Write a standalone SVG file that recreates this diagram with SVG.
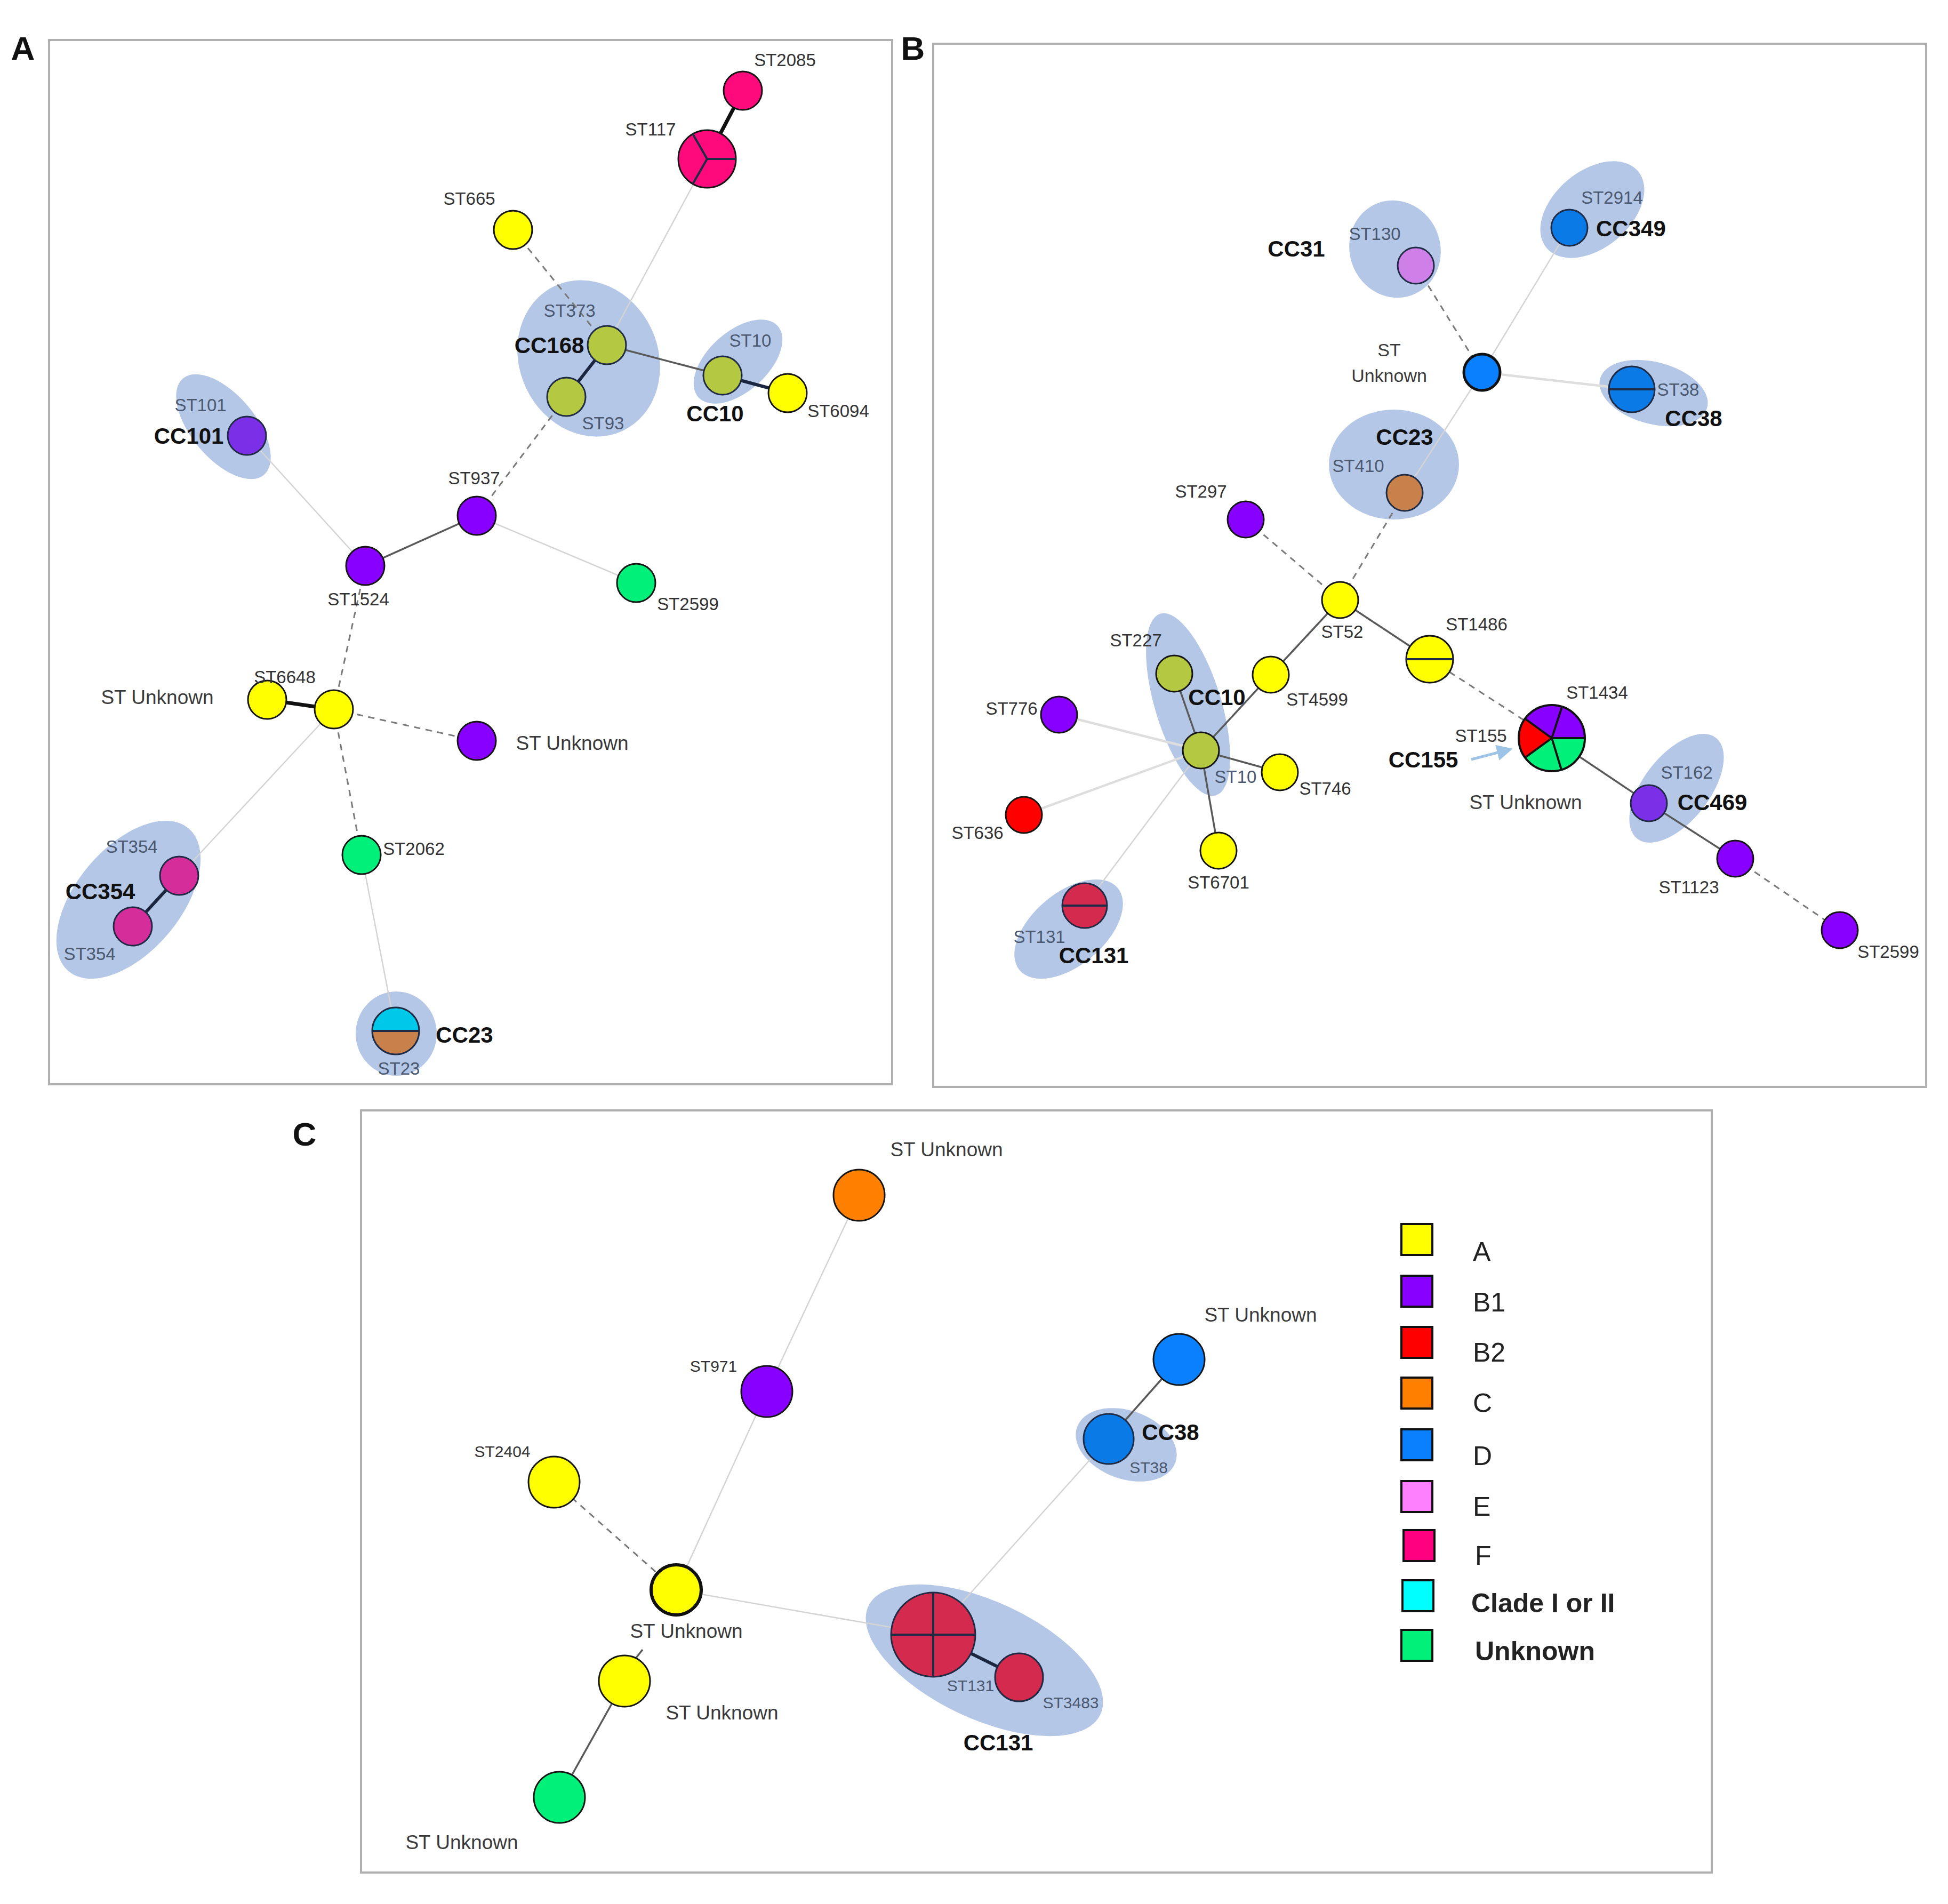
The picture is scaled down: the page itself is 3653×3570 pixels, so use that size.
<svg xmlns="http://www.w3.org/2000/svg" width="3653" height="3570" viewBox="0 0 3653 3570">
<style>
.frame{fill:none;stroke:#b0b0b0;stroke-width:4}
.hull{fill:#b4c7e7}
.n{stroke:#151515;stroke-width:3}
.nh{stroke:#1f2a44;stroke-width:3}
.div{stroke:#1f2a44;stroke-width:4;fill:none}
.el{stroke:#d4d4d4;stroke-width:2.5;fill:none}
.elw{stroke:#dedede;stroke-width:4.5;fill:none}
.em{stroke:#5a5a5a;stroke-width:3.5;fill:none}
.ed{stroke:#7a7a7a;stroke-width:3;stroke-dasharray:12 10;fill:none}
.et{stroke:#111;stroke-width:7;fill:none}
.en{stroke:#1b2640;stroke-width:6;fill:none}
text{font-family:"Liberation Sans",Arial,sans-serif}
.l{font-size:33px;fill:#333;text-anchor:middle}
.lc{font-size:30px;fill:#333;text-anchor:middle}
.s{font-size:33px;fill:#4a5870;text-anchor:middle}
.u{font-size:37px;fill:#3a3a3a;text-anchor:middle}
.cc{font-size:42px;font-weight:bold;fill:#111;text-anchor:middle}
.pl{font-size:62px;font-weight:bold;fill:#111;text-anchor:middle}
.lg{font-size:50px;fill:#222}
.lgb{font-size:50px;fill:#222;font-weight:bold}
.sq{stroke:#111;stroke-width:4}
</style>
<defs>
<marker id="ah" markerWidth="6" markerHeight="6" refX="5" refY="3" orient="auto" markerUnits="strokeWidth">
<path d="M0,0 L6,3 L0,6 Z" fill="#9dc3e6"/>
</marker>
</defs>
<rect width="3653" height="3570" fill="#fff"/>

<!-- frames and panel letters -->
<g id="frames">
<rect class="frame" x="92" y="75" width="1581" height="1958"/>
<rect class="frame" x="1750" y="82" width="1862" height="1956"/>
<rect class="frame" x="677" y="2082" width="2533" height="1429"/>
<text class="pl" x="43" y="112">A</text>
<text class="pl" x="1712" y="112">B</text>
<text class="pl" x="571" y="2148">C</text>
</g>

<!-- hulls -->
<g id="hulls">
<ellipse class="hull" cx="1104" cy="672" rx="130" ry="150" transform="rotate(-25 1104 672)"/>
<ellipse class="hull" cx="1384" cy="678" rx="100" ry="56" transform="rotate(-42 1384 678)"/>
<ellipse class="hull" cx="419" cy="800" rx="118" ry="60" transform="rotate(50 419 800)"/>
<ellipse class="hull" cx="241" cy="1687" rx="175" ry="98" transform="rotate(-50 241 1687)"/>
<ellipse class="hull" cx="743" cy="1938" rx="76" ry="79"/>
<ellipse class="hull" cx="2616" cy="467" rx="85" ry="92" transform="rotate(-20 2616 467)"/>
<ellipse class="hull" cx="2986" cy="393" rx="112" ry="72" transform="rotate(-40 2986 393)"/>
<ellipse class="hull" cx="3101" cy="737" rx="104" ry="58" transform="rotate(15 3101 737)"/>
<ellipse class="hull" cx="2614" cy="871" rx="122" ry="103"/>
<ellipse class="hull" cx="2228" cy="1321" rx="62" ry="178" transform="rotate(-17 2228 1321)"/>
<ellipse class="hull" cx="2004" cy="1742" rx="120" ry="68" transform="rotate(-40 2004 1742)"/>
<ellipse class="hull" cx="3144" cy="1478" rx="120" ry="62" transform="rotate(-52 3144 1478)"/>
<ellipse class="hull" cx="2112" cy="2709" rx="98" ry="64" transform="rotate(20 2112 2709)"/>
<ellipse class="hull" cx="1846" cy="3113" rx="240" ry="110" transform="rotate(25 1846 3113)"/>
</g>

<!-- connectors -->
<g id="connectors">
<!-- A -->
<line class="et" x1="1393" y1="170" x2="1326" y2="298"/>
<line class="el" x1="1326" y1="298" x2="1138" y2="647"/>
<line class="ed" x1="962" y1="431" x2="1138" y2="647"/>
<line class="en" x1="1138" y1="647" x2="1062" y2="744"/>
<line class="em" x1="1138" y1="647" x2="1355" y2="704"/>
<line class="en" x1="1355" y1="704" x2="1477" y2="737"/>
<line class="ed" x1="1062" y1="744" x2="894" y2="967"/>
<line class="el" x1="463" y1="817" x2="685" y2="1061"/>
<line class="em" x1="894" y1="967" x2="685" y2="1061"/>
<line class="el" x1="894" y1="967" x2="1193" y2="1093"/>
<line class="ed" x1="685" y1="1061" x2="626" y2="1330"/>
<line class="et" x1="626" y1="1330" x2="501" y2="1312"/>
<line class="ed" x1="626" y1="1330" x2="894" y2="1389"/>
<line class="ed" x1="626" y1="1330" x2="678" y2="1603"/>
<line class="el" x1="626" y1="1330" x2="336" y2="1642"/>
<line class="en" x1="336" y1="1642" x2="249" y2="1737"/>
<line class="el" x1="678" y1="1603" x2="742" y2="1933"/>
<!-- B -->
<line class="ed" x1="2655" y1="498" x2="2779" y2="698"/>
<line class="el" x1="2943" y1="427" x2="2779" y2="698"/>
<line class="elw" x1="2779" y1="698" x2="3060" y2="730"/>
<line class="el" x1="2779" y1="698" x2="2634" y2="924"/>
<line class="ed" x1="2634" y1="924" x2="2513" y2="1125"/>
<line class="ed" x1="2336" y1="974" x2="2513" y2="1125"/>
<line class="em" x1="2513" y1="1125" x2="2681" y2="1236"/>
<line class="em" x1="2513" y1="1125" x2="2383" y2="1265"/>
<line class="em" x1="2383" y1="1265" x2="2252" y2="1407"/>
<line class="em" x1="2202" y1="1263" x2="2252" y2="1407"/>
<line class="em" x1="2252" y1="1407" x2="2400" y2="1448"/>
<line class="em" x1="2252" y1="1407" x2="2285" y2="1595"/>
<line class="elw" x1="2252" y1="1407" x2="1986" y2="1340"/>
<line class="elw" x1="2252" y1="1407" x2="1920" y2="1528"/>
<line class="el" x1="2252" y1="1407" x2="2034" y2="1698"/>
<line class="ed" x1="2681" y1="1236" x2="2910" y2="1384"/>
<line class="em" x1="2910" y1="1384" x2="3092" y2="1506"/>
<line class="em" x1="3092" y1="1506" x2="3254" y2="1610"/>
<line class="ed" x1="3254" y1="1610" x2="3450" y2="1744"/>
<line stroke="#9dc3e6" stroke-width="5" x1="2759" y1="1424" x2="2832" y2="1405" marker-end="url(#ah)"/>
<!-- C -->
<line class="el" x1="1611" y1="2241" x2="1438" y2="2609"/>
<line class="el" x1="1438" y1="2609" x2="1268" y2="2981"/>
<line class="ed" x1="1039" y1="2779" x2="1268" y2="2981"/>
<line class="el" x1="1268" y1="2981" x2="1750" y2="3065"/>
<line class="el" x1="1750" y1="3065" x2="2079" y2="2698"/>
<line class="em" x1="2079" y1="2698" x2="2211" y2="2549"/>
<line class="en" x1="1750" y1="3065" x2="1911" y2="3145"/>
<line class="em" x1="1171" y1="3152" x2="1049" y2="3370"/>
<line class="em" x1="1190" y1="3112" x2="1205" y2="3093"/>
</g>

<!-- Panel A nodes -->
<g id="A-ST2085"><circle class="n" cx="1393" cy="170" r="36" fill="#ff0a7c"/></g>
<g id="A-ST117"><circle class="n" cx="1326" cy="298" r="54" fill="#ff0a7c"/>
<path class="div" stroke="#151515" d="M1326,298 L1380,298 M1326,298 L1299,345 M1326,298 L1299,251"/></g>
<g id="A-ST665"><circle class="n" cx="962" cy="431" r="36" fill="#ffff00"/></g>
<g id="A-ST373"><circle class="nh" cx="1138" cy="647" r="36" fill="#b5c842"/></g>
<g id="A-ST93"><circle class="nh" cx="1062" cy="744" r="36" fill="#b5c842"/></g>
<g id="A-ST10"><circle class="nh" cx="1355" cy="704" r="36" fill="#b5c842"/></g>
<g id="A-ST6094"><circle class="n" cx="1477" cy="737" r="36" fill="#ffff00"/></g>
<g id="A-ST101"><circle class="nh" cx="463" cy="817" r="36" fill="#7b2fe6"/></g>
<g id="A-ST937"><circle class="n" cx="894" cy="967" r="36" fill="#8800ff"/></g>
<g id="A-ST1524"><circle class="n" cx="685" cy="1061" r="36" fill="#8800ff"/></g>
<g id="A-ST2599"><circle class="n" cx="1193" cy="1093" r="36" fill="#00f07a"/></g>
<g id="A-ST6648"><circle class="n" cx="626" cy="1330" r="36" fill="#ffff00"/></g>
<g id="A-STU-yellow"><circle class="n" cx="501" cy="1312" r="36" fill="#ffff00"/></g>
<g id="A-STU-purple"><circle class="n" cx="894" cy="1389" r="36" fill="#8800ff"/></g>
<g id="A-ST2062"><circle class="n" cx="678" cy="1603" r="36" fill="#00f07a"/></g>
<g id="A-ST354a"><circle class="nh" cx="336" cy="1642" r="36" fill="#d52e9b"/></g>
<g id="A-ST354b"><circle class="nh" cx="249" cy="1737" r="36" fill="#d52e9b"/></g>
<g id="A-ST23">
<path d="M698,1933 A44,44 0 0 1 786,1933 Z" fill="#00c8e8"/>
<path d="M698,1933 A44,44 0 0 0 786,1933 Z" fill="#c8814a"/>
<line class="div" x1="698" y1="1933" x2="786" y2="1933"/>
<circle class="nh" cx="742" cy="1933" r="44" fill="none"/></g>

<!-- Panel B nodes -->
<g id="B-ST130"><circle class="nh" cx="2655" cy="498" r="34" fill="#cf80e8"/></g>
<g id="B-ST2914"><circle class="nh" cx="2943" cy="427" r="34" fill="#0a7ae6"/></g>
<g id="B-STU"><circle cx="2779" cy="698" r="34" fill="#0a80ff" stroke="#111" stroke-width="5"/></g>
<g id="B-ST38"><circle class="nh" cx="3060" cy="730" r="43" fill="#0a7ae6"/>
<line class="div" x1="3017" y1="730" x2="3103" y2="730"/></g>
<g id="B-ST410"><circle class="nh" cx="2634" cy="924" r="34" fill="#c8814a"/></g>
<g id="B-ST297"><circle class="n" cx="2336" cy="974" r="34" fill="#8800ff"/></g>
<g id="B-ST52"><circle class="n" cx="2513" cy="1125" r="34" fill="#ffff00"/></g>
<g id="B-ST1486"><circle class="n" cx="2681" cy="1236" r="44" fill="#ffff00"/>
<line class="div" stroke="#151515" x1="2637" y1="1236" x2="2725" y2="1236"/></g>
<g id="B-ST227"><circle class="n" cx="2202" cy="1263" r="34" fill="#b5c842"/></g>
<g id="B-ST4599"><circle class="n" cx="2383" cy="1265" r="34" fill="#ffff00"/></g>
<g id="B-ST776"><circle class="n" cx="1986" cy="1340" r="34" fill="#8800ff"/></g>
<g id="B-ST10"><circle class="n" cx="2252" cy="1407" r="34" fill="#b5c842"/></g>
<g id="B-ST746"><circle class="n" cx="2400" cy="1448" r="34" fill="#ffff00"/></g>
<g id="B-ST636"><circle class="n" cx="1920" cy="1528" r="34" fill="#ff0000"/></g>
<g id="B-ST6701"><circle class="n" cx="2285" cy="1595" r="34" fill="#ffff00"/></g>
<g id="B-ST131"><circle class="nh" cx="2034" cy="1698" r="42" fill="#d42a4e"/>
<line class="div" x1="1992" y1="1698" x2="2076" y2="1698"/></g>
<g id="B-ST1434">
<path d="M2910,1384 L2859.8,1347.5 A62,62 0 0 1 2929.2,1325 Z" fill="#8800ff"/>
<path d="M2910,1384 L2929.2,1325 A62,62 0 0 1 2972,1384 Z" fill="#8800ff"/>
<path d="M2910,1384 L2972,1384 A62,62 0 0 1 2928.1,1443.3 Z" fill="#00f07a"/>
<path d="M2910,1384 L2928.1,1443.3 A62,62 0 0 1 2859.8,1420.5 Z" fill="#00f07a"/>
<path d="M2910,1384 L2859.8,1420.5 A62,62 0 0 1 2859.8,1347.5 Z" fill="#ff0000"/>
<path stroke="#111" stroke-width="4" fill="none" d="M2910,1384 L2859.8,1347.5 M2910,1384 L2929.2,1325 M2910,1384 L2972,1384 M2910,1384 L2928.1,1443.3 M2910,1384 L2859.8,1420.5"/>
<circle cx="2910" cy="1384" r="62" fill="none" stroke="#111" stroke-width="4"/></g>
<g id="B-ST162"><circle class="nh" cx="3092" cy="1506" r="34" fill="#7b2fe6"/></g>
<g id="B-ST1123"><circle class="n" cx="3254" cy="1610" r="34" fill="#8800ff"/></g>
<g id="B-ST2599"><circle class="n" cx="3450" cy="1744" r="34" fill="#8800ff"/></g>

<!-- Panel C nodes -->
<g id="C-STU-orange"><circle class="n" cx="1611" cy="2241" r="48" fill="#ff8000"/></g>
<g id="C-ST971"><circle class="n" cx="1438" cy="2609" r="48" fill="#8800ff"/></g>
<g id="C-ST2404"><circle class="n" cx="1039" cy="2779" r="48" fill="#ffff00"/></g>
<g id="C-STU-center"><circle cx="1268" cy="2981" r="47" fill="#ffff00" stroke="#111" stroke-width="6"/></g>
<g id="C-STU-lower"><circle class="n" cx="1171" cy="3152" r="48" fill="#ffff00"/></g>
<g id="C-STU-green"><circle class="n" cx="1049" cy="3370" r="48" fill="#00f07a"/></g>
<g id="C-ST131"><circle class="nh" cx="1750" cy="3065" r="79" fill="#d42a4e"/>
<path class="div" d="M1671,3065 L1829,3065 M1750,2986 L1750,3144"/>
<text class="s" x="1820" y="3171" style="font-size:30px">ST131</text></g>
<g id="C-ST3483"><circle class="nh" cx="1911" cy="3145" r="45" fill="#d42a4e"/></g>
<g id="C-ST38"><circle class="nh" cx="2079" cy="2698" r="47" fill="#0a7ae6"/></g>
<g id="C-STU-blue"><circle class="n" cx="2211" cy="2549" r="48" fill="#0a80ff"/></g>

<!-- legend -->
<g id="legend">
<rect class="sq" x="2628" y="2295" width="58" height="58" fill="#ffff00"/>
<rect class="sq" x="2628" y="2392" width="58" height="58" fill="#8800ff"/>
<rect class="sq" x="2628" y="2488" width="58" height="58" fill="#ff0000"/>
<rect class="sq" x="2628" y="2583" width="58" height="58" fill="#ff8000"/>
<rect class="sq" x="2628" y="2680" width="58" height="58" fill="#0a80ff"/>
<rect class="sq" x="2628" y="2777" width="58" height="58" fill="#ff80ff"/>
<rect class="sq" x="2632" y="2869" width="58" height="58" fill="#ff0080"/>
<rect class="sq" x="2630" y="2963" width="58" height="58" fill="#00ffff"/>
<rect class="sq" x="2628" y="3056" width="58" height="58" fill="#00f07a"/>
<text class="lg" x="2762" y="2364">A</text>
<text class="lg" x="2762" y="2459">B1</text>
<text class="lg" x="2762" y="2553">B2</text>
<text class="lg" x="2762" y="2648">C</text>
<text class="lg" x="2762" y="2747">D</text>
<text class="lg" x="2762" y="2842">E</text>
<text class="lg" x="2766" y="2934">F</text>
<text class="lgb" x="2759" y="3023">Clade I or II</text>
<text class="lgb" x="2766" y="3113">Unknown</text>
</g>

<!-- labels -->
<g id="labels">
<text class="l" x="1472" y="124">ST2085</text>
<text class="l" x="1220" y="254">ST117</text>
<text class="l" x="880" y="384">ST665</text>
<text class="s" x="1068" y="594">ST373</text>
<text class="cc" x="1030" y="662">CC168</text>
<text class="s" x="1407" y="650">ST10</text>
<text class="s" x="1131" y="805">ST93</text>
<text class="cc" x="1341" y="790">CC10</text>
<text class="l" x="1572" y="782">ST6094</text>
<text class="s" x="376" y="771">ST101</text>
<text class="cc" x="354" y="832">CC101</text>
<text class="l" x="889" y="908">ST937</text>
<text class="l" x="672" y="1135">ST1524</text>
<text class="l" x="1290" y="1144">ST2599</text>
<text class="l" x="534" y="1281">ST6648</text>
<text class="u" x="295" y="1320">ST Unknown</text>
<text class="u" x="1073" y="1406">ST Unknown</text>
<text class="l" x="776" y="1603">ST2062</text>
<text class="s" x="247" y="1599">ST354</text>
<text class="cc" x="188" y="1686">CC354</text>
<text class="s" x="168" y="1800">ST354</text>
<text class="cc" x="871" y="1955">CC23</text>
<text class="s" x="748" y="2015">ST23</text>

<text class="s" x="3023" y="382">ST2914</text>
<text class="cc" x="2993" y="443" style="text-anchor:start">CC349</text>
<text class="s" x="2578" y="450">ST130</text>
<text class="cc" x="2431" y="481">CC31</text>
<text class="u" x="2605" y="668" style="font-size:34px">ST</text>
<text class="u" x="2605" y="716" style="font-size:34px">Unknown</text>
<text class="s" x="3147" y="742">ST38</text>
<text class="cc" x="3176" y="799">CC38</text>
<text class="cc" x="2634" y="834">CC23</text>
<text class="s" x="2547" y="885">ST410</text>
<text class="l" x="2252" y="933">ST297</text>
<text class="l" x="2517" y="1196">ST52</text>
<text class="l" x="2769" y="1182">ST1486</text>
<text class="l" x="2130" y="1212">ST227</text>
<text class="cc" x="2282" y="1322">CC10</text>
<text class="l" x="2470" y="1323">ST4599</text>
<text class="l" x="1897" y="1340">ST776</text>
<text class="s" x="2317" y="1468">ST10</text>
<text class="l" x="2485" y="1490">ST746</text>
<text class="l" x="1833" y="1573">ST636</text>
<text class="l" x="2285" y="1666">ST6701</text>
<text class="s" x="1949" y="1768">ST131</text>
<text class="cc" x="2051" y="1806">CC131</text>
<text class="l" x="2995" y="1310">ST1434</text>
<text class="l" x="2777" y="1391">ST155</text>
<text class="cc" x="2669" y="1439">CC155</text>
<text class="u" x="2861" y="1517">ST Unknown</text>
<text class="s" x="3163" y="1460">ST162</text>
<text class="cc" x="3211" y="1519">CC469</text>
<text class="l" x="3167" y="1675">ST1123</text>
<text class="l" x="3541" y="1796">ST2599</text>

<text class="u" x="1775" y="2168">ST Unknown</text>
<text class="lc" x="1338" y="2572">ST971</text>
<text class="lc" x="942" y="2732">ST2404</text>
<text class="u" x="1287" y="3071">ST Unknown</text>
<text class="u" x="1354" y="3224">ST Unknown</text>
<text class="u" x="866" y="3467">ST Unknown</text>
<text class="s" x="2008" y="3203" style="font-size:30px">ST3483</text>
<text class="cc" x="1872" y="3282">CC131</text>
<text class="cc" x="2195" y="2700">CC38</text>
<text class="s" x="2154" y="2762" style="font-size:30px">ST38</text>
<text class="u" x="2364" y="2478">ST Unknown</text>
</g>
</svg>
